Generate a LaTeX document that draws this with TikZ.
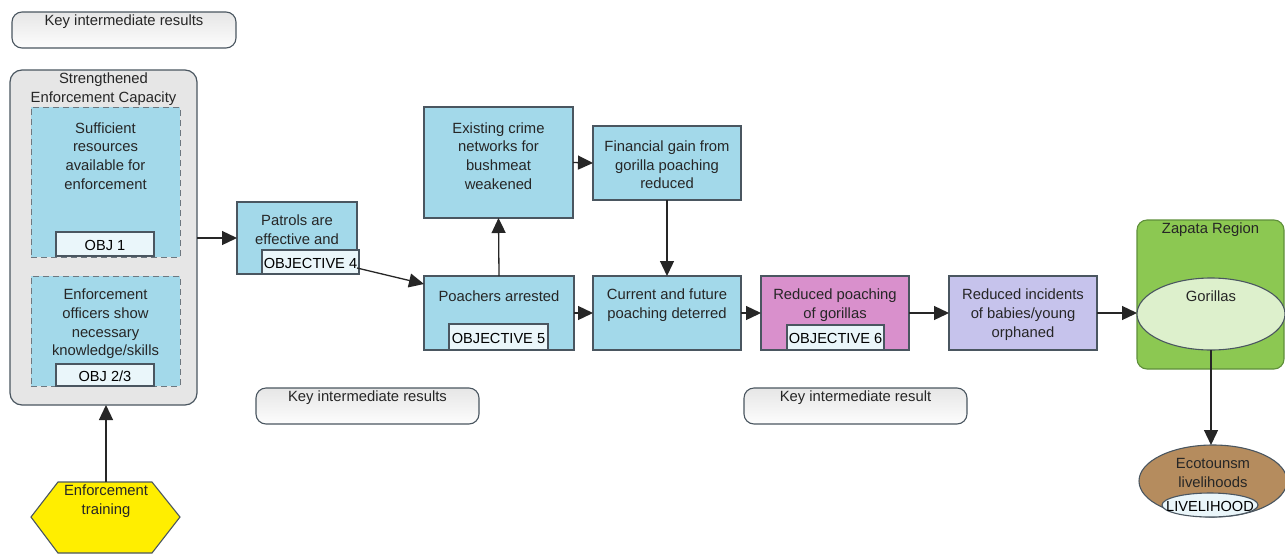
\documentclass[tikz,border=0pt]{standalone}
\usepackage{fontspec}
\setmainfont{Liberation Sans}
\usetikzlibrary{arrows.meta,shapes.geometric}
\definecolor{boxline}{HTML}{4A5660}
\definecolor{bluefill}{HTML}{A3D9EA}
\definecolor{objfill}{HTML}{EAF6FA}
\definecolor{pinkfill}{HTML}{D990CC}
\definecolor{lavfill}{HTML}{C6C3EC}
\definecolor{greenfill}{HTML}{8CC852}
\definecolor{greenline}{HTML}{5E8F3A}
\definecolor{palegreen}{HTML}{DDF0CC}
\definecolor{brownfill}{HTML}{B58C5E}
\definecolor{hexfill}{HTML}{FFEE00}
\definecolor{keyfill}{HTML}{E6E6E6}
\definecolor{txt}{HTML}{262626}
\tikzset{
  x=1pt, y=-1pt,
  every node/.style={inner sep=0pt, outer sep=0pt, text=txt},
  lbl/.style={font=\fontsize{14.8}{18.7}\selectfont, align=center},
  objlbl/.style={font=\fontsize{14.6}{16}\selectfont, text=black},
  box/.style={draw=boxline, line width=1.1pt, fill=#1, rectangle},
  objbox/.style={draw=boxline, line width=1.1pt, fill=objfill, rectangle},
  dashbox/.style={draw=boxline!80, line width=1pt, dash pattern=on 6pt off 4pt, fill=bluefill, rectangle},
  keybox/.style={draw=boxline, line width=1.1pt, rounded corners=10pt, top color=keyfill, bottom color=white!92!keyfill, rectangle},
  conn/.style={draw=black!85, line width=1.3pt, -{Triangle[length=15pt,width=14pt]}},
}
\begin{document}
\begin{tikzpicture}
\useasboundingbox (0,0) rectangle (1285,555);

% key result labels
\node[keybox, minimum width=224, minimum height=36] (key1) at (124,30) {};
\node[lbl] (key1t) at (124,22) {Key intermediate results};
\node[keybox, minimum width=223, minimum height=36] (key2) at (367.5,406) {};
\node[lbl] (key2t) at (367.5,398) {Key intermediate results};
\node[keybox, minimum width=223, minimum height=36] (key3) at (855.5,406) {};
\node[lbl] (key3t) at (855.5,398) {Key intermediate result};

% strengthened enforcement capacity group
\node[draw=boxline, line width=1.2pt, fill=keyfill, rounded corners=12pt, minimum width=187, minimum height=335] (cap) at (103.5,237.5) {};
\node[lbl] (capt) at (103.5,89) {Strengthened\\Enforcement Capacity};
\node[dashbox, minimum width=149, minimum height=150] (res) at (105.5,182) {};
\node[lbl] (rest) at (105.5,156) {Sufficient\\resources\\available for\\enforcement};
\node[objbox, minimum width=98, minimum height=24] (obj1) at (105,244) {};
\node[objlbl] (obj1t) at (105,245) {OBJ 1};
\node[dashbox, minimum width=149, minimum height=110] (skill) at (105.5,331) {};
\node[lbl] (skillt) at (105.5,324) {Enforcement\\officers show\\necessary\\knowledge/skills};
\node[objbox, minimum width=98, minimum height=22] (obj23) at (105,375) {};
\node[objlbl] (obj23t) at (105,376) {OBJ 2/3};

% enforcement training
\draw[draw=boxline, line width=1.1pt, fill=hexfill]
  (58,482) -- (152,482) -- (180,517) -- (152,553) -- (58,553) -- (31,517) -- cycle;
\coordinate (hextop) at (106,482);
\node[lbl] (hext) at (106,501.5) {Enforcement\\training};

% chain of results
\node[box=bluefill, minimum width=120, minimum height=72] (pat) at (297,238) {};
\node[lbl] (patt) at (297,229.5) {Patrols are\\effective and};
\node[objbox, minimum width=97, minimum height=24] (obj4) at (310.5,262) {};
\node[objlbl] (obj4t) at (310.5,263) {OBJECTIVE 4};

\node[box=bluefill, minimum width=150, minimum height=74] (poa) at (499,313) {};
\node[lbl] (poat) at (499,296) {Poachers arrested};
\node[objbox, minimum width=99, minimum height=26] (obj5) at (498.5,337) {};
\node[objlbl] (obj5t) at (498.5,338) {OBJECTIVE 5};

\node[box=bluefill, minimum width=149, minimum height=111] (net) at (498.5,162.5) {};
\node[lbl] (nett) at (498.5,156) {Existing crime\\networks for\\bushmeat\\weakened};

\node[box=bluefill, minimum width=148, minimum height=74] (fin) at (667,163) {};
\node[lbl] (fint) at (667,165) {Financial gain from\\gorilla poaching\\reduced};

\node[box=bluefill, minimum width=148, minimum height=74] (det) at (667,313) {};
\node[lbl] (dett) at (667,305) {Current and future\\poaching deterred};

\node[box=pinkfill, minimum width=148, minimum height=74] (red) at (835,313) {};
\node[lbl] (redt) at (835,305) {Reduced poaching\\of gorillas};
\node[objbox, minimum width=97, minimum height=25] (obj6) at (835.5,337.5) {};
\node[objlbl] (obj6t) at (835.5,338.5) {OBJECTIVE 6};

\node[box=lavfill, minimum width=148, minimum height=74] (orph) at (1023,313) {};
\node[lbl] (orpht) at (1023,314.5) {Reduced incidents\\of babies/young\\orphaned};

% Zapata region
\node[draw=greenline, line width=1.1pt, fill=greenfill, rounded corners=10pt, minimum width=147, minimum height=149] (zap) at (1210.5,294.5) {};
\node[lbl] (zapt) at (1210.5,230) {Zapata Region};
\node[ellipse, draw=boxline, line width=1.1pt, fill=palegreen, minimum width=148, minimum height=72] (gor) at (1211,314) {};
\node[lbl] (gort) at (1211,296) {Gorillas};

\node[ellipse, draw=boxline, line width=1.1pt, fill=brownfill, minimum width=148, minimum height=72] (eco) at (1213,481) {};
\node[lbl] (ecot) at (1213,473) {Ecotounsm\\livelihoods};
\node[ellipse, draw=boxline, line width=1.1pt, fill=objfill, minimum width=96, minimum height=24] (liv) at (1210,505) {};
\node[objlbl] (livt) at (1210,506) {LIVELIHOOD};

% connectors
\draw[conn] (hextop) -- (hextop |- cap.south);
\draw[conn] (cap.east |- pat.west) -- (pat.west);
\draw[conn] ([yshift=6pt]pat.south east) -- ([yshift=-8pt]poa.north west);
\draw[conn] (poa.north) -- (net.south);
\draw[conn] (net.east) -- (fin.west);
\draw[conn] (fin.south) -- (det.north);
\draw[conn] (poa.east) -- (det.west);
\draw[conn] (det.east) -- (red.west);
\draw[conn] (red.east) -- (orph.west);
\draw[conn] (orph.east) -- (orph.east -| gor.west);
\draw[conn] (gor.south) -- (gor.south |- eco.north);
\end{tikzpicture}
\end{document}
